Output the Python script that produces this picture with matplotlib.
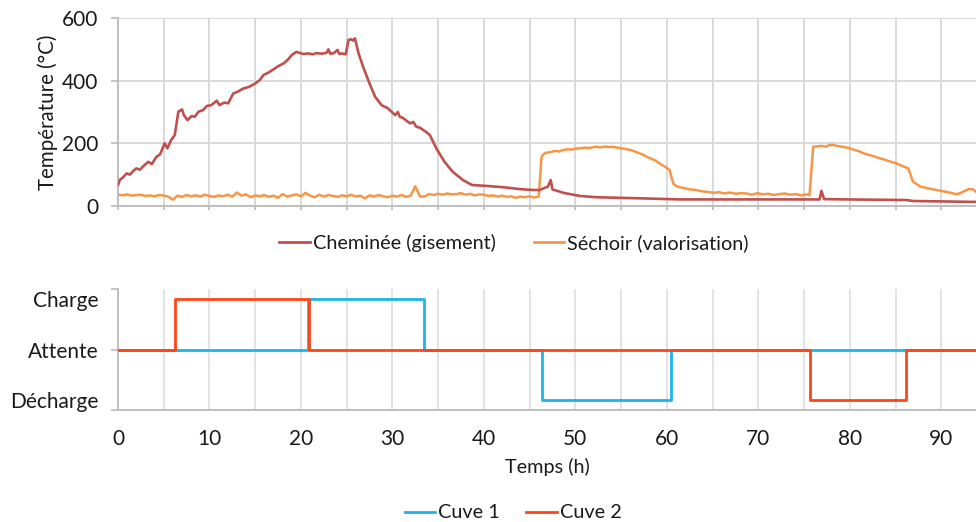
import numpy as np
import matplotlib
matplotlib.use("Agg")
import matplotlib.pyplot as plt
from matplotlib.lines import Line2D

plt.rcParams['font.family'] = ['Lato', 'DejaVu Sans']
plt.rcParams['text.color'] = '#1a1a1a'
plt.rcParams['axes.labelcolor'] = '#1a1a1a'
plt.rcParams['xtick.color'] = '#bfbfbf'
plt.rcParams['ytick.color'] = '#bfbfbf'
plt.rcParams['xtick.labelcolor'] = '#1a1a1a'
plt.rcParams['ytick.labelcolor'] = '#1a1a1a'

# Cheminée (gisement) : (temps h, température °C)
cheminee = [
    (0, 67), (0.2, 83), (0.5, 90), (0.95, 104), (1.3, 100), (1.6, 110), (2.0, 120),
    (2.4, 116), (2.8, 128), (3.3, 141), (3.7, 134), (4.2, 157), (4.6, 165), (5.1, 200),
    (5.4, 184), (5.8, 210), (6.2, 226), (6.6, 301), (7.0, 308), (7.2, 290), (7.6, 274),
    (8.05, 287), (8.4, 285), (8.8, 301), (9.3, 306), (9.7, 319), (10.2, 322), (10.8, 336),
    (11.1, 322), (11.6, 330), (12.05, 328), (12.6, 359), (13.1, 365), (13.7, 375),
    (14.3, 380), (15.0, 391), (15.5, 402), (15.9, 418), (16.4, 425), (17.0, 436),
    (17.5, 446), (18.1, 455), (18.6, 468), (19.0, 482), (19.5, 492), (20.25, 485),
    (20.8, 487), (21.3, 484), (21.7, 488), (22.3, 486), (22.8, 489), (23.0, 500),
    (23.2, 486), (23.6, 488), (24.0, 498), (24.2, 485), (24.5, 487), (24.9, 484),
    (25.2, 530), (25.5, 532), (25.7, 528), (25.9, 535), (26.3, 487), (26.8, 444),
    (27.5, 391), (28.1, 349), (28.8, 322), (29.5, 312), (30.3, 290), (30.6, 300),
    (30.8, 285), (31.2, 280), (31.9, 264), (32.3, 268), (32.6, 253), (33.0, 250),
    (33.4, 242), (33.7, 236), (34.1, 226), (34.8, 184), (35.7, 141), (36.6, 109),
    (37.7, 83), (38.7, 67), (40.3, 64), (42.1, 60), (43.9, 54), (45.4, 51), (46.1, 51),
    (47.0, 62), (47.3, 83), (47.5, 53), (48.7, 42), (50.5, 32), (52.3, 28), (55.0, 26),
    (57.8, 24), (61.4, 21), (66.0, 21), (71.0, 21), (76.7, 21), (76.9, 48), (77.2, 22),
    (79.6, 21), (86.2, 19), (86.9, 16), (93.8, 13),
]

# Séchoir (valorisation) : relevé toutes les 30 min jusqu'à 46 h
sechoir_debut = [
    36, 34, 37, 33, 35, 36, 32, 34, 31, 35, 33, 30, 20, 33, 29, 35, 31, 34, 30, 36,
    32, 29, 34, 31, 36, 30, 43, 33, 37, 28, 34, 31, 35, 29, 33, 26, 38, 30, 34, 37,
    31, 42, 33, 28, 36, 30, 35, 32, 29, 34, 31, 36, 30, 33, 24, 34, 30, 35, 31, 28,
    33, 30, 35, 29, 33, 63, 31, 30, 38, 35, 39, 36, 40, 37, 38, 41, 36, 39, 34, 37,
    36, 32, 34, 30, 33, 29, 31, 26, 30, 28, 31, 27, 30,
]
sechoir_pas = 0.5

# Séchoir (valorisation) après 46 h : (temps h, température °C)
sechoir_fin = [
    (46.3, 157), (46.5, 165), (46.8, 170), (47.3, 172), (47.8, 176), (48.2, 174),
    (48.7, 179), (49.2, 181), (49.6, 180), (50.0, 183), (50.5, 184), (51.0, 186),
    (51.5, 185), (52.0, 188), (52.3, 189), (52.8, 187), (53.3, 190), (53.7, 188),
    (54.1, 189), (54.6, 186), (55.0, 184), (55.5, 182), (56.0, 179), (56.5, 174),
    (57.0, 168), (57.4, 164), (57.8, 157), (58.2, 152), (58.7, 146), (59.2, 136),
    (59.7, 127), (60.3, 115), (60.7, 72), (61.0, 64), (61.4, 60), (62.0, 56),
    (62.5, 53), (63.2, 51), (63.8, 47), (64.4, 45), (65.1, 42), (65.7, 44), (66.3, 40),
    (66.9, 43), (67.5, 39), (68.1, 41), (68.7, 40), (69.3, 36), (69.9, 41), (70.5, 37),
    (71.1, 39), (71.7, 35), (72.3, 38), (72.9, 40), (73.5, 36), (74.1, 38), (74.7, 34),
    (75.3, 37), (75.6, 35), (76.0, 189), (76.4, 190), (76.9, 192), (77.4, 189),
    (77.8, 195), (78.2, 195), (78.7, 191), (79.2, 189), (79.6, 187), (80.0, 184),
    (80.5, 179), (81.0, 175), (81.5, 168), (82.0, 164), (82.5, 160), (83.0, 155),
    (83.3, 152), (83.8, 148), (84.4, 142), (85.1, 136), (85.7, 128), (86.4, 120),
    (86.9, 78), (87.3, 70), (87.7, 62), (88.3, 58), (88.8, 55), (89.3, 52), (89.8, 49),
    (90.4, 46), (90.9, 43), (91.3, 40), (91.6, 38), (92.0, 40), (92.5, 47), (93.0, 54),
    (93.5, 53), (93.8, 45),
]

# États des cuves : 1 = Charge, 0 = Attente, -1 = Décharge
cuve1_t = [0, 20.8, 33.4, 46.3, 60.5, 93.8]
cuve1_etat = [0, 1, 0, -1, 0, 0]
cuve2_t = [0, 6.2, 20.9, 75.6, 86.1, 93.8]
cuve2_etat = [0, 1, 0, -1, 0, 0]
etats = [-1, 0, 1]
etats_noms = ["Décharge", "Attente", "Charge"]

temp_ticks = [0, 200, 400, 600]
temps_ticks = list(range(0, 100, 10))
x_max = 93.8

c_chem = '#c0504d'
c_sech = '#f79646'
c_cuve1 = '#1cb4ec'
c_cuve2 = '#ff4516'
c_grid = '#d9d9d9'
c_axe = '#bfbfbf'

chem_t, chem_v = zip(*cheminee)
sech_t = list(np.arange(len(sechoir_debut)) * sechoir_pas)
sech_v = list(sechoir_debut)
for t, v in sechoir_fin:
    sech_t.append(t)
    sech_v.append(v)

fig = plt.figure(figsize=(9.76, 5.22), dpi=100)

# --- Températures ---
ax1 = fig.add_axes([118 / 976, 1 - 206 / 522, 1 - 118 / 976, 188 / 522])
ax1.plot(chem_t, chem_v, color=c_chem, lw=1.9, zorder=3)
ax1.plot(sech_t, sech_v, color=c_sech, lw=1.8, zorder=2)
ax1.set_xlim(0, x_max)
ax1.set_ylim(0, 600)
ax1.set_yticks(temp_ticks)
ax1.set_xticks(np.arange(0, x_max, 5))
ax1.set_xticklabels([])
ax1.tick_params(axis='y', labelsize=15, length=5, width=1.3, pad=9)
ax1.tick_params(axis='x', length=3, width=1.3)
ax1.grid(True, color=c_grid, lw=1.4)
ax1.set_axisbelow(True)
for side in ['top', 'right']:
    ax1.spines[side].set_visible(False)
for side in ['left', 'bottom']:
    ax1.spines[side].set_color(c_axe)
    ax1.spines[side].set_linewidth(1.4)
ax1.set_ylabel("Température (°C)", fontsize=14.8, labelpad=3)

fig.legend(
    [Line2D([], [], color=c_chem, lw=2), Line2D([], [], color=c_sech, lw=2)],
    ["Cheminée (gisement)", "Séchoir (valorisation)"],
    loc='center', bbox_to_anchor=(514 / 976, 1 - 243 / 522), ncol=2, frameon=False,
    fontsize=14.3, handlelength=1.55, handletextpad=0.15, columnspacing=1.9)

# --- États des cuves ---
ax2 = fig.add_axes([118 / 976, 1 - 410 / 522, 1 - 118 / 976, 121 / 522])
ax2.plot(cuve1_t, cuve1_etat, drawstyle='steps-post', color=c_cuve1, lw=2.0, zorder=2)
ax2.plot(cuve2_t, cuve2_etat, drawstyle='steps-post', color=c_cuve2, lw=2.0, zorder=3)
ax2.set_xlim(0, x_max)
ax2.set_ylim(-1.2, 1.2)
ax2.yaxis.remove_overlapping_locs = False
ax2.set_yticks(etats)
ax2.set_yticklabels(etats_noms)
ax2.set_yticks([-1.2, 0, 1.2], minor=True)
ax2.tick_params(axis='y', which='minor', length=5, width=1.3)
ax2.tick_params(axis='y', which='major', length=0, labelsize=15, pad=14)
ax2.set_xticks(np.arange(0, x_max, 5), minor=True)
ax2.set_xticks(temps_ticks)
ax2.tick_params(axis='x', which='both', length=0, labelsize=15, pad=14)
ax2.grid(True, axis='x', which='both', color='#e3e3e3', lw=1.4)
ax2.set_axisbelow(True)
for side in ['top', 'right']:
    ax2.spines[side].set_visible(False)
for side in ['left', 'bottom']:
    ax2.spines[side].set_color(c_axe)
    ax2.spines[side].set_linewidth(1.4)
ax2.set_xlabel("Temps (h)", fontsize=14.3, labelpad=6)

fig.legend(
    [Line2D([], [], color=c_cuve1, lw=2), Line2D([], [], color=c_cuve2, lw=2)],
    ["Cuve 1", "Cuve 2"],
    loc='center', bbox_to_anchor=(513 / 976, 1 - 513 / 522), ncol=2, frameon=False,
    fontsize=14.3, handlelength=1.55, handletextpad=0.15, columnspacing=1.3)

fig.savefig("out.png", dpi=100)
